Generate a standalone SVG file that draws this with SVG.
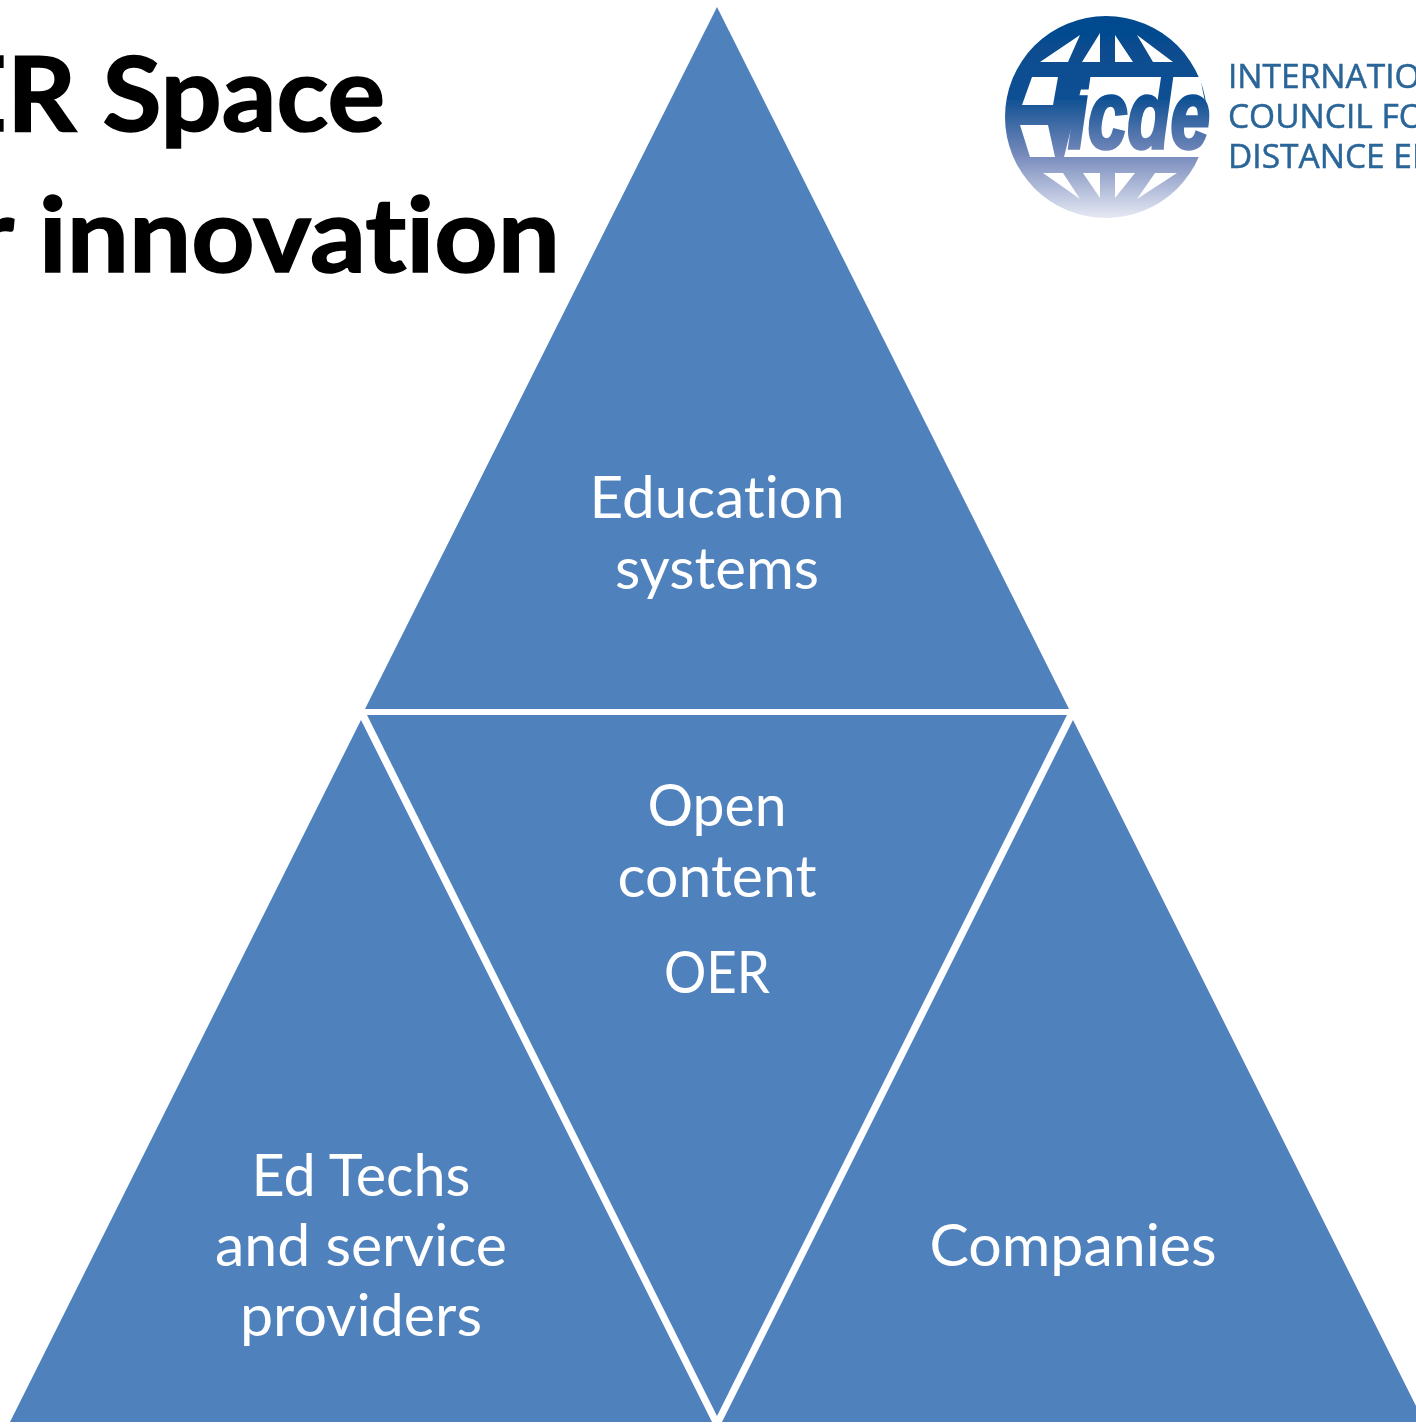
<svg xmlns="http://www.w3.org/2000/svg" width="1416" height="1425" viewBox="0 0 1416 1425">
<style>
.tri{fill:#4f81bd}
text{font-variant-ligatures:none}
.lab{font-family:Lato,"Open Sans",sans-serif;font-size:58px;fill:#fff;text-anchor:middle}
.title{font-family:Lato,"Open Sans",sans-serif;font-weight:700;font-size:104px;fill:#000;stroke:#000;stroke-width:1.6px}
.org{font-family:"Open Sans","Noto Sans",sans-serif;font-size:33.5px;fill:#2a6598;stroke:#2a6598;stroke-width:.5px}
</style>
<defs>
<linearGradient id="g" gradientUnits="userSpaceOnUse" x1="0" y1="16" x2="0" y2="218">
<stop offset="0" stop-color="#044a8e"/><stop offset=".4" stop-color="#0c4f92"/><stop offset=".68" stop-color="#7488ba"/><stop offset="1" stop-color="#e6e9f4"/>
</linearGradient>
<filter id="soft" x="-5%" y="-5%" width="110%" height="110%"><feGaussianBlur stdDeviation=".7"/></filter>
</defs>
<rect width="1416" height="1425" fill="#fff"/>
<g id="title">
<text class="title" x="-55" y="131" textLength="440" lengthAdjust="spacingAndGlyphs">ER Space</text>
<text class="title" x="-27" y="272" textLength="587" lengthAdjust="spacingAndGlyphs">r innovation</text>
</g>
<g id="logo" filter="url(#soft)">
<circle cx="1106" cy="117" r="101" fill="url(#g)"/>
<g fill="#fff">
<path d="M1040 62 1080 35 1068 62Z M1082 62 1100 33V62Z M1115 35 1133 62H1115Z M1137 35 1173 62H1153Z"/>
<path d="M1032 77H1058L1053 105H1022Z M1020 125H1048L1055 157H1030Z"/>
<path d="M1043 173H1063L1080 199Z M1083 173H1100V198Z M1115 173H1135L1115 198Z M1155 173H1177L1137 199Z"/>
<path d="M1084 77H1200L1216 157H1064Z"/>
</g>
<text x="1068" y="148" font-family="'Liberation Sans',sans-serif" font-weight="700" font-style="italic" font-size="96" textLength="142" lengthAdjust="spacingAndGlyphs" fill="url(#g)" stroke="url(#g)" stroke-width="3.5">icde</text>
<text class="org" x="1228" y="88">INTERNATIO</text>
<text class="org" x="1228" y="128">COUNCIL FO</text>
<text class="org" x="1228" y="168">DISTANCE ED</text>
</g>
<g id="connectors"/>
<g id="node-education">
<polygon class="tri" points="717,7 1069,709 365,709"/>
<text class="lab" x="717" y="518" textLength="255" lengthAdjust="spacingAndGlyphs">Education</text>
<text class="lab" x="717" y="589" textLength="204" lengthAdjust="spacingAndGlyphs">systems</text>
</g>
<g id="node-open-content">
<polygon class="tri" points="367,715 1067,715 717,1416"/>
<text class="lab" x="717" y="826" textLength="139" lengthAdjust="spacingAndGlyphs">Open</text>
<text class="lab" x="717" y="897" textLength="199" lengthAdjust="spacingAndGlyphs">content</text>
<text class="lab" x="717" y="993" textLength="106" lengthAdjust="spacingAndGlyphs">OER</text>
</g>
<g id="node-edtechs">
<polygon class="tri" points="361,720 712,1422 10,1422"/>
<text class="lab" x="361" y="1196" textLength="219" lengthAdjust="spacingAndGlyphs">Ed Techs</text>
<text class="lab" x="361" y="1266" textLength="292" lengthAdjust="spacingAndGlyphs">and service</text>
<text class="lab" x="361" y="1336" textLength="242" lengthAdjust="spacingAndGlyphs">providers</text>
</g>
<g id="node-companies">
<polygon class="tri" points="1073,720 1424,1422 722,1422"/>
<text class="lab" x="1073" y="1266" textLength="287" lengthAdjust="spacingAndGlyphs">Companies</text>
</g>
</svg>
